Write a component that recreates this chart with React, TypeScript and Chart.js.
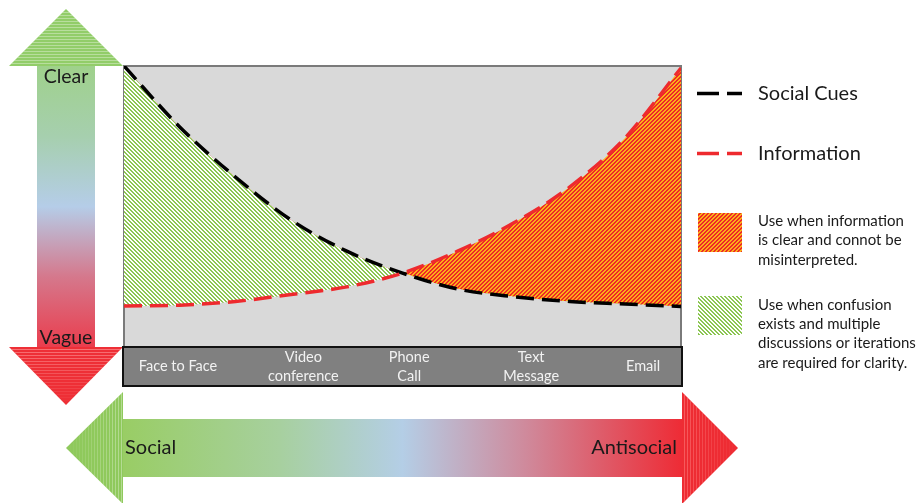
import React, { useEffect, useRef } from "react";
import { Chart, registerables } from "chart.js";

Chart.register(...registerables);

// ---- data ----
const xPositions = [0, 10, 20, 30, 40, 50, 60, 70, 80, 90, 100];
const socialCues = [100, 78.3, 60.5, 45.2, 34.1, 26.3, 20.6, 17.9, 16.2, 15.3, 14.4];
const information = [14.6, 14.9, 16.2, 18.7, 21.4, 26.3, 34.2, 44.2, 56.9, 74.5, 99.3];
const categories: string[][] = [["Face to Face"], ["Video", "conference"], ["Phone", "Call"], ["Text", "Message"], ["Email"]];
const categoryPositions = [9.7, 32.2, 51.2, 73.1, 93.2];
const seriesNames = ["Social Cues", "Information"];
const noteOrange = ["Use when information", "is clear and connot be", "misinterpreted."];
const noteGreen = ["Use when confusion", "exists and multiple", "discussions or iterations", "are required for clarity."];
const verticalLabels = ["Clear", "Vague"];
const horizontalLabels = ["Social", "Antisocial"];

const FONT = "Lato, 'Open Sans', sans-serif";

function makeStripe(c1: string, c2: string, size: number, dir: number): CanvasPattern | string {
  const cv = document.createElement("canvas");
  cv.width = size;
  cv.height = size;
  const ctx = cv.getContext("2d")!;
  for (let y = 0; y < size; y++) {
    for (let x = 0; x < size; x++) {
      const k = dir > 0 ? (x + y) % size : (x - y + size * 4) % size;
      ctx.fillStyle = k < size / 2 ? c1 : c2;
      ctx.fillRect(x, y, 1, 1);
    }
  }
  return ctx.createPattern(cv, "repeat") || c1;
}

export default function App() {
  const ref = useRef<HTMLCanvasElement>(null);

  useEffect(() => {
    const canvas = ref.current!;
    const green = makeStripe("#8cc653", "#ffffff", 4, -1);
    const orange = makeStripe("#ee2a27", "#fbb01a", 4, 1);

    const decor = {
      id: "decor",
      beforeDraw(chart: any) {
        const { ctx, chartArea: a } = chart;
        ctx.save();
        ctx.fillStyle = "#ffffff";
        ctx.fillRect(0, 0, chart.width, chart.height);
        // plot background
        ctx.fillStyle = "#d9d9d9";
        ctx.fillRect(a.left, a.top, a.right - a.left, a.bottom - a.top);
        ctx.strokeStyle = "#7a7a7a";
        ctx.lineWidth = 2;
        ctx.strokeRect(a.left, a.top, a.right - a.left, a.bottom - a.top);

        // ---- vertical arrow ----
        const sx0 = 37, sx1 = 95, cx = 66;
        const g1 = ctx.createLinearGradient(0, a.top, 0, a.bottom);
        g1.addColorStop(0, "#9fd18b");
        g1.addColorStop(0.25, "#a6cfae");
        g1.addColorStop(0.5, "#b5cde8");
        g1.addColorStop(0.75, "#d5788c");
        g1.addColorStop(1, "#ea3d4d");
        ctx.fillStyle = g1;
        ctx.fillRect(sx0, a.top, sx1 - sx0, a.bottom - a.top);
        // top head
        ctx.beginPath();
        ctx.moveTo(9, a.top);
        ctx.lineTo(a.left - 1, a.top);
        ctx.lineTo(cx, 9);
        ctx.closePath();
        ctx.fillStyle = "#92cd69";
        ctx.fill();
        ctx.save();
        ctx.clip();
        ctx.strokeStyle = "rgba(255,255,255,0.35)";
        ctx.lineWidth = 1;
        for (let y = 12; y < a.top; y += 3) {
          ctx.beginPath();
          ctx.moveTo(0, y + 0.5);
          ctx.lineTo(130, y + 0.5);
          ctx.stroke();
        }
        ctx.restore();
        // bottom head
        ctx.beginPath();
        ctx.moveTo(9, a.bottom);
        ctx.lineTo(a.left - 1, a.bottom);
        ctx.lineTo(cx, 405);
        ctx.closePath();
        ctx.fillStyle = "#ee2f36";
        ctx.fill();
        ctx.save();
        ctx.clip();
        ctx.lineWidth = 1;
        for (let y = a.bottom + 2; y < 405; y += 3) {
          const t = (y - a.bottom) / 58;
          ctx.strokeStyle = `rgba(255,170,170,${0.55 * (1 - t)})`;
          ctx.beginPath();
          ctx.moveTo(0, y + 0.5);
          ctx.lineTo(130, y + 0.5);
          ctx.stroke();
        }
        ctx.restore();

        // ---- horizontal arrow ----
        const hy0 = 419, hy1 = 477, cy = 448;
        const g2 = ctx.createLinearGradient(a.left, 0, a.right, 0);
        g2.addColorStop(0, "#99cd65");
        g2.addColorStop(0.28, "#a7d09f");
        g2.addColorStop(0.5, "#b4cee6");
        g2.addColorStop(0.72, "#cf8a9c");
        g2.addColorStop(1, "#ee2c36");
        ctx.fillStyle = g2;
        ctx.fillRect(a.left - 1, hy0, a.right - a.left + 2, hy1 - hy0);
        // left head
        ctx.beginPath();
        ctx.moveTo(a.left - 1, 392);
        ctx.lineTo(a.left - 1, 504);
        ctx.lineTo(66, cy);
        ctx.closePath();
        ctx.fillStyle = "#8fc95c";
        ctx.fill();
        ctx.save();
        ctx.clip();
        ctx.lineWidth = 1;
        for (let x = 70; x < a.left; x += 3) {
          const t = (x - 66) / 57;
          ctx.strokeStyle = `rgba(255,255,255,${0.35 * t})`;
          ctx.beginPath();
          ctx.moveTo(x + 0.5, 380);
          ctx.lineTo(x + 0.5, 510);
          ctx.stroke();
        }
        ctx.restore();
        // right head
        ctx.beginPath();
        ctx.moveTo(a.right + 1, 392);
        ctx.lineTo(a.right + 1, 504);
        ctx.lineTo(738, cy);
        ctx.closePath();
        ctx.fillStyle = "#ee2c33";
        ctx.fill();
        ctx.save();
        ctx.clip();
        ctx.lineWidth = 1;
        for (let x = a.right + 3; x < 738; x += 3) {
          const t = (x - a.right) / 57;
          ctx.strokeStyle = `rgba(255,140,140,${0.5 * (1 - t)})`;
          ctx.beginPath();
          ctx.moveTo(x + 0.5, 380);
          ctx.lineTo(x + 0.5, 510);
          ctx.stroke();
        }
        ctx.restore();

        // arrow labels
        ctx.fillStyle = "#1a1a1a";
        ctx.font = `19.5px ${FONT}`;
        ctx.textAlign = "center";
        ctx.textBaseline = "middle";
        ctx.fillText(verticalLabels[0], cx, 77);
        ctx.fillText(verticalLabels[1], cx, 338);
        ctx.font = `20px ${FONT}`;
        ctx.textAlign = "left";
        ctx.fillText(horizontalLabels[0], a.left + 1, cy);
        ctx.textAlign = "right";
        ctx.fillText(horizontalLabels[1], a.right - 4, cy);
        ctx.restore();
      },
      afterDraw(chart: any) {
        const { ctx, chartArea: a, scales } = chart;
        ctx.save();
        // category bar
        const barTop = a.bottom, barBot = a.bottom + 39;
        ctx.fillStyle = "#808080";
        ctx.fillRect(a.left - 1, barTop, a.right - a.left + 2, barBot - barTop);
        ctx.strokeStyle = "#111111";
        ctx.lineWidth = 2;
        ctx.strokeRect(a.left - 1, barTop, a.right - a.left + 2, barBot - barTop);
        ctx.fillStyle = "#f2f2f2";
        ctx.font = `14.5px ${FONT}`;
        ctx.textAlign = "center";
        ctx.textBaseline = "middle";
        categories.forEach((lines, i) => {
          const x = scales.x.getPixelForValue(categoryPositions[i]);
          const mid = (barTop + barBot) / 2;
          lines.forEach((ln, j) => {
            const y = mid + (j - (lines.length - 1) / 2) * 19;
            ctx.fillText(ln, x, y);
          });
        });

        // legend: series
        const lx = 697;
        const dashY = [93.5, 153.5];
        const lineColors = ["#000000", "#ee2a2e"];
        ctx.lineWidth = 3.5;
        ctx.setLineDash([]);
        dashY.forEach((y, i) => {
          ctx.strokeStyle = lineColors[i];
          ctx.beginPath();
          ctx.moveTo(lx, y);
          ctx.lineTo(lx + 22, y);
          ctx.moveTo(lx + 30, y);
          ctx.lineTo(lx + 45, y);
          ctx.stroke();
          ctx.fillStyle = "#1a1a1a";
          ctx.font = `20px ${FONT}`;
          ctx.textAlign = "left";
          ctx.textBaseline = "middle";
          ctx.fillText(seriesNames[i], 758, y);
        });
        // legend: pattern boxes
        ctx.fillStyle = orange as any;
        ctx.fillRect(698, 213, 44, 39);
        ctx.fillStyle = green as any;
        ctx.fillRect(698, 296, 44, 39);
        ctx.fillStyle = "#1a1a1a";
        ctx.font = `15px ${FONT}`;
        ctx.textAlign = "left";
        ctx.textBaseline = "middle";
        noteOrange.forEach((t, i) => ctx.fillText(t, 758, 221 + i * 19.6));
        noteGreen.forEach((t, i) => ctx.fillText(t, 758, 305 + i * 19.3));
        ctx.restore();
      },
    };

    const chart = new Chart(canvas, {
      type: "line",
      data: {
        datasets: [
          {
            label: seriesNames[1],
            data: xPositions.map((x, i) => ({ x, y: information[i] })),
            borderColor: "#ee2a2e",
            borderWidth: 3.5,
            borderDash: [18, 8],
            pointRadius: 0,
            cubicInterpolationMode: "monotone",
            fill: { target: 1, above: orange as any, below: green as any },
          },
          {
            label: seriesNames[0],
            data: xPositions.map((x, i) => ({ x, y: socialCues[i] })),
            borderColor: "#000000",
            borderWidth: 3.5,
            borderDash: [18, 8],
            pointRadius: 0,
            cubicInterpolationMode: "monotone",
            fill: false,
          },
        ],
      },
      options: {
        responsive: false,
        maintainAspectRatio: false,
        devicePixelRatio: 1,
        animation: false,
        layout: { padding: { left: 124, top: 66, right: 237, bottom: 156 } },
        scales: {
          x: { type: "linear", min: 0, max: 100, display: false },
          y: { type: "linear", min: 0, max: 100, display: false },
        },
        plugins: {
          legend: { display: false },
          tooltip: { enabled: false },
          filler: { drawTime: "beforeDatasetsDraw" } as any,
        },
      } as any,
      plugins: [decor],
    });
    return () => chart.destroy();
  }, []);

  return (
    <div style={{ position: "fixed", left: 0, top: 0, width: 918, height: 503, background: "#fff" }}>
      <canvas ref={ref} width={918} height={503} style={{ display: "block", width: 918, height: 503 }} />
    </div>
  );
}
